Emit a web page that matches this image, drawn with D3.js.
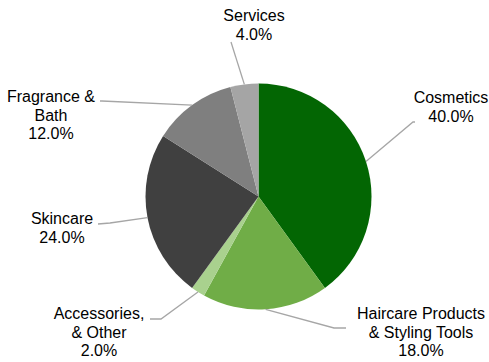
<!DOCTYPE html>
<html>
<head>
<meta charset="utf-8">
<script src="https://cdn.jsdelivr.net/npm/d3@7"></script>
<style>
  body { margin: 0; background: #fff; }
  text { font-family: "Liberation Sans", Arial, sans-serif; font-size: 16px; fill: #000; }
</style>
</head>
<body>
<svg id="chart" width="489" height="362"></svg>
<script>
// data
var categories = ["Cosmetics", "Haircare Products & Styling Tools", "Accessories, & Other", "Skincare", "Fragrance & Bath", "Services"];
var shares = [40, 18, 2, 24, 12, 4];
var labelLines = [
  ["Cosmetics"],
  ["Haircare Products", "& Styling Tools"],
  ["Accessories,", "& Other"],
  ["Skincare"],
  ["Fragrance &", "Bath"],
  ["Services"]
];
var colors = ["#036603", "#70AD47", "#A9D18E", "#404040", "#7F7F7F", "#A5A5A5"];

// label layout: text centre, first baseline, leader elbow and end
var labelPos = [
  {x: 451, y: 103, elbow: [413, 122], end: [415, 122]},
  {x: 421, y: 319, elbow: [334, 328], end: [346, 328]},
  {x: 99,  y: 319, elbow: [161, 319], end: [150, 319]},
  {x: 62,  y: 224, elbow: [110, 223], end: [98, 224]},
  {x: 51,  y: 102, elbow: [102, 101], end: [100, 101]},
  {x: 254, y: 21,  elbow: [231, 42],  end: [231, 42]}
];

var cx = 258.5, cy = 196.5, radius = 113, lineH = 18.5;
var svg = d3.select("#chart");

var pie = d3.pie().sort(null).value(function (d) { return d; });
var arcs = pie(shares);
var arc = d3.arc().innerRadius(0).outerRadius(radius);
var edge = d3.arc().innerRadius(radius).outerRadius(radius);

var g = svg.append("g").attr("transform", "translate(" + cx + "," + cy + ")");

g.selectAll("path.slice")
  .data(arcs)
  .enter().append("path")
  .attr("class", "slice")
  .attr("d", arc)
  .attr("fill", function (d, i) { return colors[i]; });

// leader lines from slice edge to label
var lineFunction = d3.line();
svg.selectAll("path.leader")
  .data(arcs)
  .enter().append("path")
  .attr("class", "leader")
  .attr("fill", "none")
  .attr("stroke", "#A6A6A6")
  .attr("stroke-width", 1.3)
  .attr("d", function (d, i) {
    var a = (d.startAngle + d.endAngle) / 2;
    var p0 = [cx + radius * Math.sin(a), cy - radius * Math.cos(a)];
    return lineFunction([p0, labelPos[i].elbow, labelPos[i].end]);
  });

// labels
var labels = svg.selectAll("text.label")
  .data(arcs)
  .enter().append("text")
  .attr("class", "label")
  .attr("text-anchor", "middle");

labels.each(function (d, i) {
  var t = d3.select(this);
  var rows = labelLines[i].concat([d3.format(".1f")(shares[i]) + "%"]);
  rows.forEach(function (r, k) {
    t.append("tspan")
      .attr("x", labelPos[i].x)
      .attr("y", labelPos[i].y + k * lineH)
      .text(r);
  });
});
</script>
</body>
</html>
